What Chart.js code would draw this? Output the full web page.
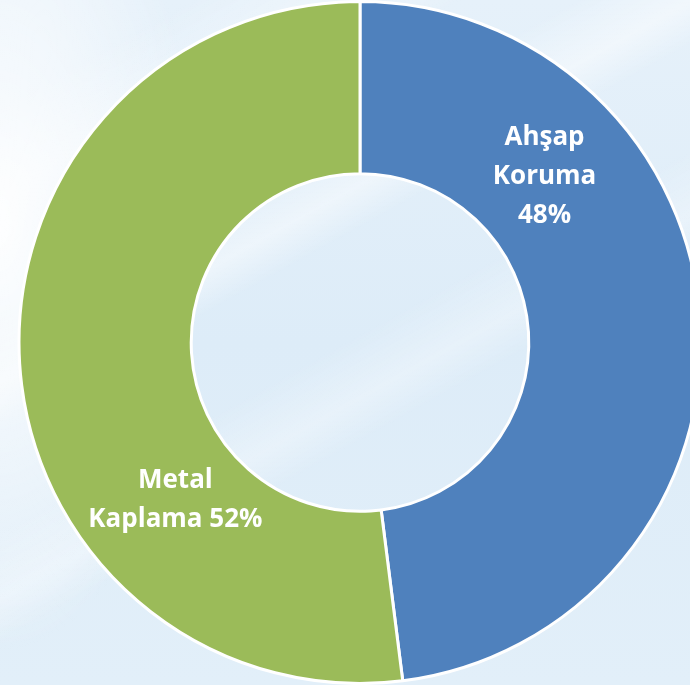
<!DOCTYPE html>
<html>
<head>
<meta charset="utf-8">
<script src="https://cdn.jsdelivr.net/npm/chart.js@4"></script>
<style>
  html, body { margin: 0; padding: 0; width: 690px; height: 685px; overflow: hidden; }
  body {
    background:
      radial-gradient(ellipse 200px 420px at 0px 230px, rgba(255,255,255,0.95), rgba(255,255,255,0.5) 50%, rgba(255,255,255,0) 100%),
      linear-gradient(151deg, rgba(255,255,255,0) 30%, rgba(255,255,255,0.45) 36%, rgba(255,255,255,0) 40%),
      linear-gradient(151deg, rgba(255,255,255,0) 50%, rgba(255,255,255,0.3) 56%, rgba(255,255,255,0) 60%),
      linear-gradient(151deg, rgba(255,255,255,0) 10%, rgba(255,255,255,0.35) 18%, rgba(255,255,255,0) 24%),
      linear-gradient(180deg, #e6f1fa 0%, #ddecf8 50%, #e2eff9 100%);
  }
  #wrap { position: absolute; left: 0; top: 0; width: 720px; height: 685px; }
</style>
</head>
<body>
<div id="wrap"><canvas id="pieChart"></canvas></div>
<script>
const labels = ['Ahşap Koruma', 'Metal Kaplama'];
const shares = [48, 52];
const colors = ['#4f81bd', '#9bbb59'];
// label lines as shown in the chart
const labelLines = [['Ahşap', 'Koruma', '48%'], ['Metal', 'Kaplama 52%']];
// label anchors: angle clockwise from top (deg), fraction of outer radius
const labelAngles = [48.1, 229.5];
const labelRadii = [0.727, 0.712];

const sliceLabels = {
    id: 'sliceLabels',
    afterDatasetsDraw(chart) {
        const ctx = chart.ctx;
        const meta = chart.getDatasetMeta(0);
        ctx.save();
        ctx.fillStyle = '#ffffff';
        ctx.font = 'bold 26px "Open Sans", sans-serif';
        ctx.textAlign = 'center';
        ctx.textBaseline = 'middle';
        meta.data.forEach((arc, i) => {
            const a = labelAngles[i] * Math.PI / 180;
            const r = arc.outerRadius * labelRadii[i];
            const x = arc.x + r * Math.sin(a);
            const y = arc.y - r * Math.cos(a);
            const lines = labelLines[i];
            const lh = 39;
            lines.forEach((t, j) => {
                ctx.fillText(t, x, y + (j - (lines.length - 1) / 2) * lh);
            });
        });
        ctx.restore();
    }
};

const ctx = document.getElementById('pieChart').getContext('2d');
new Chart(ctx, {
    type: 'doughnut',
    data: {
        labels: labels,
        datasets: [{
            data: shares,
            backgroundColor: colors,
            borderColor: '#ffffff',
            borderWidth: 3
        }]
    },
    options: {
        responsive: true,
        maintainAspectRatio: false,
        animation: false,
        cutout: '49.5%',
        layout: { padding: 0 },
        plugins: {
            legend: { display: false },
            tooltip: { enabled: false }
        }
    },
    plugins: [sliceLabels]
});
</script>
</body>
</html>
